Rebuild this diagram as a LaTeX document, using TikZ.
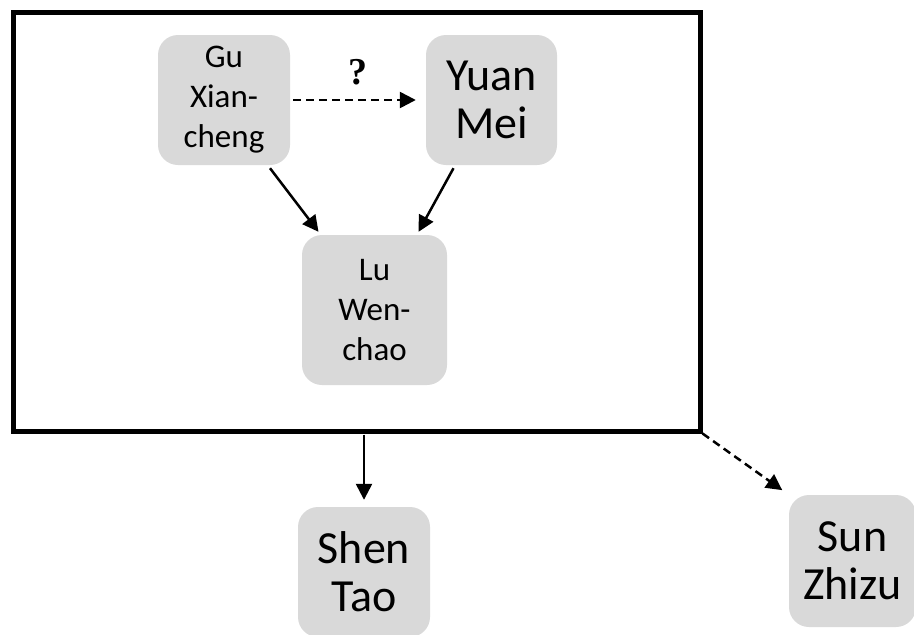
\documentclass[tikz,border=0pt]{standalone}
\usepackage{fontspec}
\setmainfont{Carlito}
\newfontfamily\qfont{Liberation Serif}
\usetikzlibrary{arrows.meta}

\tikzset{
  person/.style={fill=black!15, rounded corners=20pt, align=center,
    inner sep=0pt},
  bigname/.style={person, font=\fontsize{46}{48}\selectfont},
  smallname/.style={person, font=\fontsize{33}{40}\selectfont},
  link/.style={line width=2.5pt, -{Triangle[length=16pt,width=16pt]}},
  maybe/.style={link, dash pattern=on 8pt off 5pt},
}

\begin{document}
\begin{tikzpicture}[x=1pt,y=-1pt]
  \useasboundingbox (0,0) rectangle (914,635);

  % enclosing frame
  \node[draw, line width=5pt, minimum width=687pt, minimum height=419pt,
        inner sep=0pt] (frame) at (356.5,221.5) {};

  % people
  \node[smallname, minimum width=132pt, minimum height=130pt] (gu)
    at (224,100) {Gu\\Xian-\\cheng};
  \node[bigname, minimum width=131pt, minimum height=130pt] (yuan)
    at (491.5,100) {Yuan\\Mei};
  \node[smallname, minimum width=145pt, minimum height=150pt] (lu)
    at (374.5,310) {Lu\\Wen-\\chao};
  \node[bigname, minimum width=132pt, minimum height=130pt] (shen)
    at (364,572) {Shen\\Tao};
  \node[bigname, minimum width=127pt, minimum height=132pt] (sun)
    at (852.5,561) {Sun\\Zhizu};

  % uncertain link between Gu and Yuan
  \draw[maybe, shorten <=3pt, shorten >=10pt] (gu.east) -- (yuan.west)
    node[midway, above=10pt, font=\qfont\bfseries\fontsize{38}{38}\selectfont] (q) {?};

  % influences on Lu Wenchao
  \draw[link] ([xshift=46pt,yshift=-3pt]gu.south) -- ([xshift=-56pt,yshift=3pt]lu.north);
  \draw[link] ([xshift=-38pt,yshift=-3pt]yuan.south) -- ([xshift=44pt,yshift=3pt]lu.north);

  % links leaving the group
  \draw[link, shorten <=1pt, shorten >=7pt] (frame.south -| shen.north) -- (shen.north);
  \draw[maybe, shorten >=8pt] (frame.south east) -- (sun.north west);
\end{tikzpicture}
\end{document}
